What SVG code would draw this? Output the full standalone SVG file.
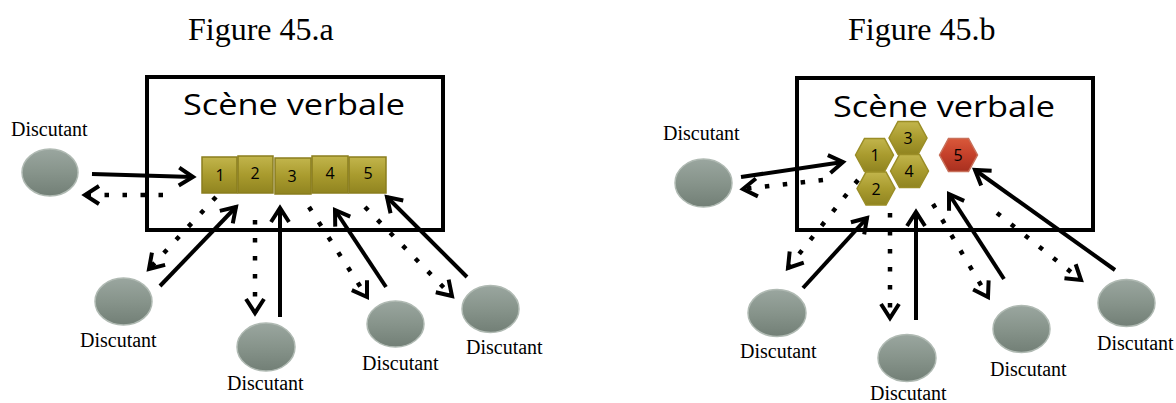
<svg xmlns="http://www.w3.org/2000/svg" width="1176" height="403" viewBox="0 0 1176 403">
<defs>
<linearGradient id="gOlive" x1="0" y1="0" x2="0" y2="1">
<stop offset="0" stop-color="#c2b54c"/>
<stop offset="0.5" stop-color="#a99b2e"/>
<stop offset="1" stop-color="#908420"/>
</linearGradient>
<linearGradient id="gRed" x1="0" y1="0" x2="0" y2="1">
<stop offset="0" stop-color="#d9583a"/>
<stop offset="0.5" stop-color="#c4402a"/>
<stop offset="1" stop-color="#a8301f"/>
</linearGradient>
<linearGradient id="gGray" x1="0" y1="0" x2="0" y2="1">
<stop offset="0" stop-color="#9aa69f"/>
<stop offset="0.5" stop-color="#87948b"/>
<stop offset="1" stop-color="#727f76"/>
</linearGradient>
<marker id="chev" markerUnits="userSpaceOnUse" markerWidth="30" markerHeight="30" refX="0" refY="0" orient="auto" overflow="visible">
<path d="M -14 -9 L 0 0 L -14 9" fill="none" stroke="#000" stroke-width="4" stroke-dasharray="none" stroke-linejoin="miter" stroke-linecap="butt"/>
</marker>
<polygon id="hex" points="-19,0 -10,-16.5 10,-16.5 19,0 10,16.5 -10,16.5"/>
</defs>
<style>
.title{font-family:"Liberation Serif","Times New Roman",serif;font-size:32px;fill:#000}
.scene{font-family:"Open Sans","DejaVu Sans",sans-serif;font-size:30px;fill:#000}
.lbl{font-family:"Liberation Serif","Times New Roman",serif;font-size:20px;fill:#000}
.num{font-family:"Open Sans","Liberation Sans",sans-serif;font-size:16px;fill:#000;text-anchor:middle}
.box{fill:none;stroke:#000;stroke-width:4}
.sq{fill:url(#gOlive);stroke:#8a7e1e;stroke-width:1.5}
.hexo{fill:url(#gOlive);stroke:#9a8d26;stroke-width:1.5}
.hexr{fill:url(#gRed);stroke:#c8705a;stroke-width:1.5}
.disc{fill:url(#gGray);stroke:#b0bab3;stroke-width:1.5}
.solid{fill:none;stroke:#000;stroke-width:4;marker-end:url(#chev)}
.dot{fill:none;stroke:#000;stroke-width:4.5;stroke-dasharray:4.5 13.5;marker-end:url(#chev)}
</style>
<rect width="1176" height="403" fill="#fff"/>

<!-- Figure a -->
<text class="title" x="188" y="40">Figure 45.a</text>
<g id="sceneA">
<rect class="box" x="147" y="77" width="296" height="153"/>
<text class="scene" x="183" y="115" textLength="222" lengthAdjust="spacingAndGlyphs">Scène verbale</text>
</g>
<g id="a_sq1"><rect class="sq" x="202" y="157" width="35" height="36"/><text class="num" x="220" y="181">1</text></g>
<g id="a_sq2"><rect class="sq" x="238" y="156" width="35" height="37"/><text class="num" x="255" y="179">2</text></g>
<g id="a_sq3"><rect class="sq" x="275" y="158" width="36" height="36"/><text class="num" x="292" y="182">3</text></g>
<g id="a_sq4"><rect class="sq" x="312" y="156" width="36" height="37"/><text class="num" x="330" y="179">4</text></g>
<g id="a_sq5"><rect class="sq" x="349" y="157" width="37" height="36"/><text class="num" x="368" y="179">5</text></g>

<g id="a_d1"><ellipse class="disc" cx="50" cy="172.5" rx="28" ry="23.5"/><text class="lbl" x="11" y="136">Discutant</text></g>
<g id="a_d2"><ellipse class="disc" cx="123.5" cy="301.5" rx="28.5" ry="23.5"/><text class="lbl" x="80" y="347">Discutant</text></g>
<g id="a_d3"><ellipse class="disc" cx="266" cy="347" rx="29" ry="24"/><text class="lbl" x="227" y="390">Discutant</text></g>
<g id="a_d4"><ellipse class="disc" cx="395.5" cy="324" rx="28.5" ry="23"/><text class="lbl" x="362" y="370">Discutant</text></g>
<g id="a_d5"><ellipse class="disc" cx="490.5" cy="309" rx="28.5" ry="23.5"/><text class="lbl" x="466" y="354">Discutant</text></g>

<g id="connectorsA">
<path class="solid" d="M 92 174 L 193 177"/>
<path class="dot" d="M 163 195 L 85 195"/>
<path class="dot" d="M 216 197 L 149 269"/>
<path class="solid" d="M 160 286 L 236 207"/>
<path class="dot" d="M 255 220 L 255 313"/>
<path class="solid" d="M 280 317 L 280 208"/>
<path class="dot" d="M 309 207 L 367 297"/>
<path class="solid" d="M 386 287 L 335 210"/>
<path class="dot" d="M 365 207 L 452 296"/>
<path class="solid" d="M 467 277 L 387 197"/>
</g>

<!-- Figure b -->
<text class="title" x="848" y="40">Figure 45.b</text>
<g id="sceneB">
<rect class="box" x="797" y="78" width="296" height="152"/>
<text class="scene" x="833" y="117" textLength="222" lengthAdjust="spacingAndGlyphs">Scène verbale</text>
</g>
<g id="b_h1"><use href="#hex" class="hexo" x="874.5" y="155"/><text class="num" x="875" y="161">1</text></g>
<g id="b_h3"><use href="#hex" class="hexo" x="908" y="138"/><text class="num" x="908" y="144">3</text></g>
<g id="b_h4"><use href="#hex" class="hexo" x="909.5" y="171"/><text class="num" x="909" y="177">4</text></g>
<g id="b_h2"><use href="#hex" class="hexo" x="876" y="188.5"/><text class="num" x="876" y="195">2</text></g>
<g id="b_h5"><use href="#hex" class="hexr" x="958.5" y="155"/><text class="num" x="958" y="161">5</text></g>

<g id="b_d1"><ellipse class="disc" cx="703.5" cy="183" rx="28.5" ry="24"/><text class="lbl" x="663" y="140">Discutant</text></g>
<g id="b_d2"><ellipse class="disc" cx="777" cy="313" rx="29" ry="23.5"/><text class="lbl" x="740" y="358">Discutant</text></g>
<g id="b_d3"><ellipse class="disc" cx="907" cy="358" rx="29" ry="23.5"/><text class="lbl" x="870" y="400">Discutant</text></g>
<g id="b_d4"><ellipse class="disc" cx="1021.5" cy="329" rx="28.5" ry="23.5"/><text class="lbl" x="990" y="376">Discutant</text></g>
<g id="b_d5"><ellipse class="disc" cx="1126.5" cy="303" rx="28.5" ry="23.5"/><text class="lbl" x="1097" y="350">Discutant</text></g>

<g id="connectorsB">
<path class="solid" d="M 741 177 L 843 162"/>
<path class="dot" d="M 823 180 L 743 189"/>
<path class="dot" d="M 858 180 L 788 268"/>
<path class="solid" d="M 803 288 L 867 218"/>
<path class="dot" d="M 890 213 L 890 318"/>
<path class="solid" d="M 916 320 L 916 212"/>
<path class="dot" d="M 933 204 L 988 297"/>
<path class="solid" d="M 1004 279 L 949 194"/>
<path class="dot" d="M 997 213 L 1081 280"/>
<path class="solid" d="M 1115 270 L 975 170"/>
</g>
</svg>
